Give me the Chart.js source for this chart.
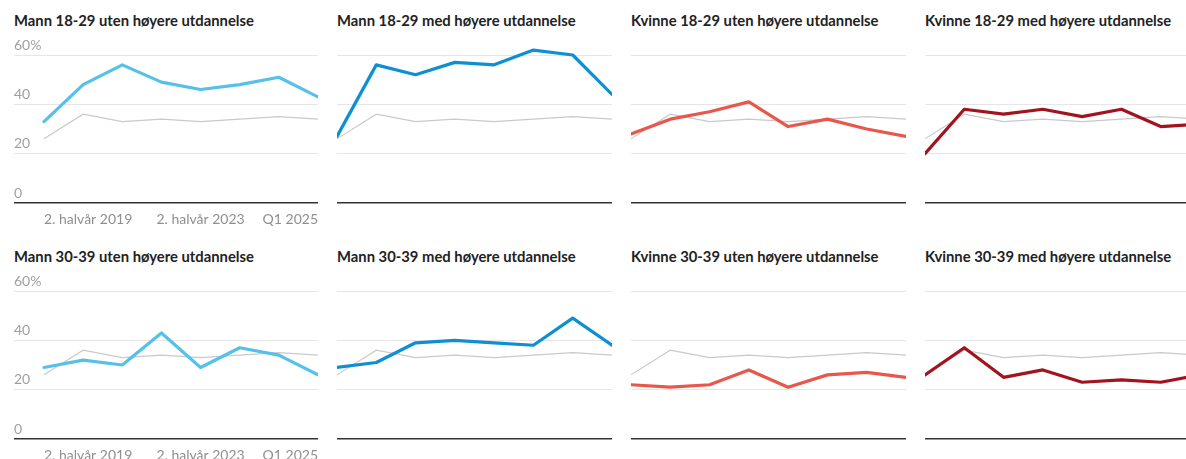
<!DOCTYPE html>
<html>
<head>
<meta charset="utf-8">
<script src="https://cdn.jsdelivr.net/npm/chart.js@4/dist/chart.umd.min.js"></script>
<style>
  html, body { margin: 0; padding: 0; background: #fff; width: 1186px; height: 459px; overflow: hidden; }
  .title { position: absolute; font-family: Lato, "Open Sans", sans-serif; font-weight: 700; font-size: 14.8px; line-height: 18px; color: #222; white-space: nowrap; }
  .box { position: absolute; }
</style>
</head>
<body>
<script>
// Periods (x categories)
const periods = ["2. halvår 2019", "2. halvår 2020", "2. halvår 2021", "2. halvår 2022", "2. halvår 2023", "1. halvår 2024", "2. halvår 2024", "Q1 2025"];
const xTickLabels = ["2. halvår 2019", "2. halvår 2023", "Q1 2025"];
const yTicks = [0, 20, 40, 60];

// Reference line (alle)
const alle = [26, 36, 33, 34, 33, 34, 35, 34];

// Group series
const mann1829Uten = [33, 48, 56, 49, 46, 48, 51, 43];
const mann1829Med = [27, 56, 52, 57, 56, 62, 60, 44];
const kvinne1829Uten = [28, 34, 37, 41, 31, 34, 30, 27];
const kvinne1829Med = [20, 38, 36, 38, 35, 38, 31, 32];
const mann3039Uten = [29, 32, 30, 43, 29, 37, 34, 26];
const mann3039Med = [29, 31, 39, 40, 39, 38, 49, 38];
const kvinne3039Uten = [22, 21, 22, 28, 21, 26, 27, 25];
const kvinne3039Med = [26, 37, 25, 28, 23, 24, 23, 26];

const titles = [
  "Mann 18-29 uten høyere utdannelse", "Mann 18-29 med høyere utdannelse",
  "Kvinne 18-29 uten høyere utdannelse", "Kvinne 18-29 med høyere utdannelse",
  "Mann 30-39 uten høyere utdannelse", "Mann 30-39 med høyere utdannelse",
  "Kvinne 30-39 uten høyere utdannelse", "Kvinne 30-39 med høyere utdannelse"
];
const seriesList = [mann1829Uten, mann1829Med, kvinne1829Uten, kvinne1829Med,
                    mann3039Uten, mann3039Med, kvinne3039Uten, kvinne3039Med];
const colors = ["#55c1ea", "#0f8fd3", "#e8574c", "#a1141f"];

const FONT = 'Lato, "Open Sans", sans-serif';
const colLeft = [14, 337, 631, 925];
const colWidth = [304, 275, 275, 275];
const rowTop = [0, 236];

function toXY(arr) { return arr.map((v, i) => ({ x: i, y: v })); }

for (let idx = 0; idx < 8; idx++) {
  const row = Math.floor(idx / 4), col = idx % 4;
  const first = col === 0;

  const t = document.createElement('div');
  t.className = 'title';
  t.textContent = titles[idx];
  t.style.left = colLeft[col] + 'px';
  t.style.top = (11 + rowTop[row]) + 'px';
  document.body.appendChild(t);

  const box = document.createElement('div');
  box.className = 'box';
  box.style.left = colLeft[col] + 'px';
  box.style.top = (30 + rowTop[row]) + 'px';
  box.style.width = colWidth[col] + 'px';
  box.style.height = '200px';
  const cv = document.createElement('canvas');
  box.appendChild(cv);
  document.body.appendChild(box);

  const pxPerUnit = (colWidth[col] - (first ? 30 : 0)) / (periods.length - 1);
  const xMin = first ? -30 / pxPerUnit : 0;

  new Chart(cv, {
    type: 'line',
    data: {
      datasets: [
        { data: toXY(seriesList[idx]), borderColor: colors[col], borderWidth: 3.2, pointRadius: 0, tension: 0, clip: false, borderJoinStyle: 'round', borderCapStyle: 'round' },
        { data: toXY(alle), borderColor: '#c9c9c9', borderWidth: 1.2, pointRadius: 0, tension: 0, clip: false }
      ]
    },
    options: {
      responsive: true,
      maintainAspectRatio: false,
      animation: false,
      events: [],
      layout: { padding: { top: 25, left: 0, right: 0, bottom: 0 } },
      plugins: { legend: { display: false }, tooltip: { enabled: false }, title: { display: false } },
      scales: {
        x: {
          type: 'linear',
          min: xMin,
          max: periods.length - 1,
          grid: { display: false, drawTicks: true, tickLength: 8 },
          border: { display: false },
          afterBuildTicks: (s) => { s.ticks = xTickLabels.map(l => ({ value: periods.indexOf(l) })); },
          afterFit: (s) => { s.height = 27; s.paddingLeft = 0; s.paddingRight = 0; },
          ticks: {
            display: first,
            align: 'inner',
            autoSkip: false,
            maxRotation: 0,
            padding: 0,
            color: '#8f8f8f',
            font: { family: FONT, size: 14 },
            callback: (v) => periods[v]
          }
        },
        y: {
          min: 0,
          max: 60,
          afterBuildTicks: (s) => { s.ticks = yTicks.map(v => ({ value: v })); },
          grid: {
            drawTicks: false,
            color: (c) => c.tick && c.tick.value === 0 ? '#333333' : '#e6e6e6',
            lineWidth: (c) => c.tick && c.tick.value === 0 ? 1.5 : 1
          },
          border: { display: false },
          ticks: {
            display: first,
            mirror: true,
            padding: 0,
            labelOffset: -10,
            color: '#a0a0a0',
            font: { family: FONT, size: 14 },
            callback: (v) => v === 60 ? v + '%' : String(v)
          }
        }
      }
    }
  });
}
</script>
</body>
</html>
